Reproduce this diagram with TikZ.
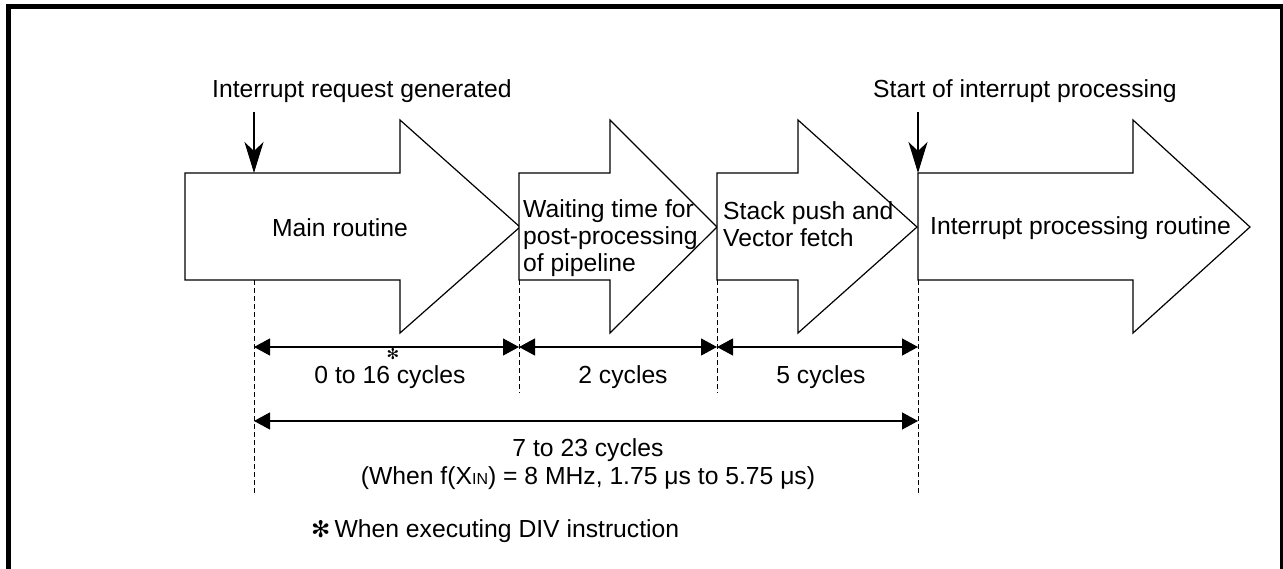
\documentclass[tikz,border=0pt]{standalone}
\usepackage{fontspec}
\setmainfont{Liberation Sans}
\newfontfamily\symfont{DejaVu Sans}
\usetikzlibrary{arrows.meta,positioning}

\begin{document}
\begin{tikzpicture}[
    x=1pt,y=-1pt,
    >=Stealth,
    font=\fontsize{24.7}{26.7}\selectfont,
    stage/.style={
        draw,
        line width=1.2pt,
        fill=white,
        line join=miter
    },
    guide/.style={line width=1pt, dash pattern=on 5pt off 3pt},
    span/.style={
        {Triangle[length=16pt,width=17pt]}-{Triangle[length=16pt,width=17pt]},
        line width=1.2pt
    },
    pointer/.style={-{Stealth[length=31pt,width=19pt,inset=9pt]}, line width=1.2pt},
    lbl/.style={inner sep=0pt}
]

\useasboundingbox (0,0) rectangle (1283,569);
\draw[line width=5pt] (8.5,640) -- (8.5,6.5) -- (1282.5,6.5) -- (1282.5,640);

% stages
\draw[stage] (185,173) -- (400,173) -- (400,120) -- (520,227) -- (400,333) -- (400,280) -- (185,280) -- cycle;
\draw[stage] (519,173) -- (610,173) -- (610,120) -- (717,227) -- (610,333) -- (610,280) -- (519,280) -- cycle;
\draw[stage] (717,173) -- (798,173) -- (798,120) -- (917,227) -- (798,333) -- (798,280) -- (717,280) -- cycle;
\draw[stage] (918,173) -- (1133,173) -- (1133,120) -- (1250,227) -- (1133,333) -- (1133,280) -- (918,280) -- cycle;

\node[lbl] (main)    at (340,228) {Main routine};
\node[lbl, anchor=west, align=left] (wait) at (523,238) {Waiting time for\\post-processing\\of pipeline};
\node[lbl, anchor=west, align=left] (stack) at (723,224) {Stack push and\\Vector fetch};
\node[lbl, anchor=west] (isr) at (930,228) {Interrupt processing routine};

% event markers
\node[lbl, anchor=base west] (req)   at (212,98) {Interrupt request generated};
\node[lbl, anchor=base west] (start) at (873,98) {Start of interrupt processing};

\coordinate (reqtop)   at (254,112);
\coordinate (reqhit)   at (254,173);
\coordinate (starttop) at (918,112);
\coordinate (starthit) at (918,173);

\draw[pointer] (reqtop) -- (reqhit);
\draw[pointer] (starttop) -- (starthit);

% guides
\coordinate (g0) at (254,280);
\coordinate (g1) at (519,280);
\coordinate (g2) at (717,280);
\coordinate (g3) at (918,280);

\draw[guide] (g0) -- ++(0,213);
\draw[guide] (g1) -- ++(0,113);
\draw[guide] (g2) -- ++(0,113);
\draw[guide] (g3) -- ++(0,213);

\coordinate (d0) at (254,347);
\coordinate (d1) at (519,347);
\coordinate (d2) at (717,347);
\coordinate (d3) at (918,347);
\coordinate (e0) at (254,421);
\coordinate (e3) at (918,421);

\draw[span] (d0) -- (d1);
\draw[span] (d1) -- (d2);
\draw[span] (d2) -- (d3);
\draw[span] (e0) -- (e3);

\node[lbl, anchor=base] (c16) at (390,384) {0 to 16 cycles};
\node[lbl, font=\symfont\fontsize{15}{15}\selectfont] (star) at (393,354.5) {✻};
\node[lbl, anchor=base] (c2)  at (623,384) {2 cycles};
\node[lbl, anchor=base] (c5)  at (821,384) {5 cycles};
\node[lbl, anchor=base] (ctot) at (588,456) {7 to 23 cycles};
\node[lbl, anchor=base] (ctime) at (588,484) {(When f(X{\fontsize{16}{16}\selectfont IN}) = 8 MHz, 1.75 μs to 5.75 μs)};

\node[lbl, anchor=base west] (note) at (311,537) {{\symfont\fontsize{23}{23}\selectfont ✻}\,When executing DIV instruction};

\end{tikzpicture}
\end{document}
